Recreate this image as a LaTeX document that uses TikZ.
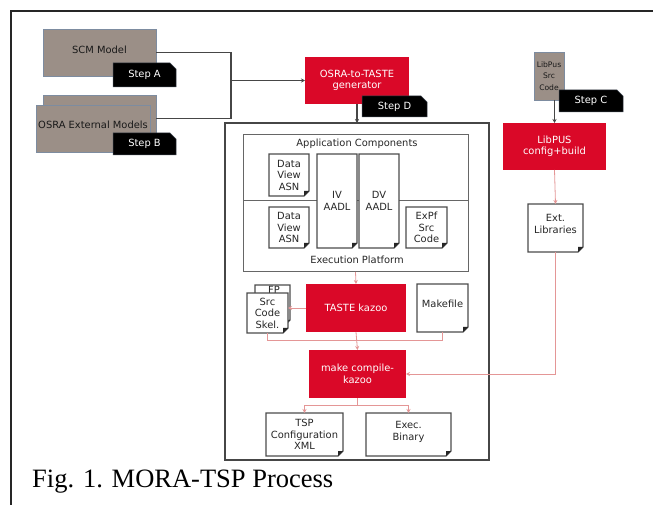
\documentclass[tikz,border=0pt]{standalone}
\usepackage{fontspec}
\setmainfont{Liberation Serif}
\newfontfamily\dvs{DejaVu Sans}
\usetikzlibrary{arrows.meta,shapes.misc}
\definecolor{boxgray}{RGB}{155,143,135}
\definecolor{boxedge}{RGB}{125,140,160}
\definecolor{mred}{RGB}{218,8,40}
\definecolor{lred}{RGB}{228,150,150}
\definecolor{dline}{RGB}{70,70,70}
\newcommand\docoutline[1]{%
  \draw[docline] (#1.north west) -- (#1.north east) -- ([yshift=5pt]#1.south east) -- ([xshift=-5pt]#1.south east) -- (#1.south west) -- cycle;
  \fill[black!85] ([yshift=5pt]#1.south east) -- ([xshift=-5pt]#1.south east) -- ([xshift=-5pt,yshift=5pt]#1.south east) -- cycle;}
\tikzset{
  wh/.style 2 args={minimum width=#1pt, minimum height=#2pt},
  base/.style={inner sep=0pt, outer sep=0pt, anchor=north west, align=center,
    font=\dvs\fontsize{9.9}{11.5}\selectfont},
  graybox/.style={base, fill=boxgray, draw=boxedge, line width=0.6pt, text=black!90},
  redbox/.style={base, fill=mred, text=white},
  steptag/.style={base, chamfered rectangle, chamfered rectangle corners=north east,
    chamfered rectangle xsep=3pt, chamfered rectangle ysep=3pt,
    fill=black, draw=boxedge!50!black, line width=0.5pt, text=white},
  docbox/.style={base, fill=white, text=black!85},
  docline/.style={draw=black!70, line width=1.2pt},
  dconn/.style={draw=dline, line width=1.2pt},
  rconn/.style={draw=lred, line width=0.8pt},
  tip/.style={-{Stealth[length=4pt,width=4pt]}},
}
\begin{document}
\begin{tikzpicture}[x=1pt, y=-1pt]
\useasboundingbox (0,0) rectangle (654,505);
\draw[line width=1.6pt, black!85] (11,505) -- (11,11) -- (653,11);

% left inputs
\node[graybox, wh={113}{47}] (scm) at (43,29) {SCM Model\\[-6.5pt]};
\node[steptag, wh={63}{24}] (stepA) at (113,63) {Step A};
\node[graybox, wh={113}{47}] (osraback) at (43,95) {};
\node[graybox, wh={114}{47}] (osra) at (36,105) {OSRA External Models\\[-4.5pt]};
\node[steptag, wh={63}{22}] (stepB) at (113,133) {Step B};

% generator
\node[redbox, wh={104}{47}] (gen) at (305,57) {OSRA-to-TASTE\\generator};
\node[steptag, wh={65}{21}] (stepD) at (362,96) {Step D};

% big box
\node[base, draw=dline, line width=1.4pt, wh={264}{337}] (big) at (225,123) {};
\node[base, draw=black!60, line width=1pt, wh={225}{137}] (inner) at (243,135) {};
\draw[black!60, line width=1pt] (inner.west |- 0,201) -- (inner.east |- 0,201);
\node[base, anchor=center, text=black!85] (appc) at (357,144) {Application Components};
\node[base, anchor=center, text=black!85] (execp) at (357,260) {Execution Platform};

\node[docbox, wh={40}{42}] (dv1) at (269,154) {Data\\View\\ASN};
\docoutline{dv1}
\node[docbox, wh={40}{94}] (iv) at (317,154) {IV\\AADL};
\docoutline{iv}
\node[docbox, wh={40}{94}] (dv) at (359,154) {DV\\AADL};
\docoutline{dv}
\node[docbox, wh={40}{41}] (dv2) at (269,207) {Data\\View\\ASN};
\docoutline{dv2}
\node[docbox, wh={41}{41}] (expf) at (406,207) {ExPf\\Src\\Code};
\docoutline{expf}

\node[redbox, wh={100}{48}] (taste) at (306,284) {TASTE kazoo};
\node[docbox, wh={35}{40}] (fpback) at (255,285) {};
\docoutline{fpback}
\node[base, anchor=center, text=black!85] (fplabel) at (274,290) {FP};
\node[docbox, wh={41}{40}] (fpfront) at (247,293) {Src\\Code\\Skel.};
\docoutline{fpfront}
\node[docbox, wh={51}{48}] (make) at (417,284) {Makefile\\[-3.5pt]};
\docoutline{make}
\node[redbox, wh={97}{48}] (compile) at (309,350) {make compile-\\kazoo};
\node[docbox, wh={77}{43}] (tsp) at (266,413) {TSP\\Configuration\\XML};
\docoutline{tsp}
\node[docbox, wh={85}{43}] (exec) at (366,413) {Exec.\\Binary\\[-4.5pt]};
\docoutline{exec}

% right column
\node[graybox, wh={30}{48}, font=\dvs\fontsize{7.6}{11.5}\selectfont] (libsrc) at (534,52) {LibPus\\Src\\Code};
\node[steptag, wh={64}{22}] (stepC) at (559,90) {Step C};
\node[redbox, wh={103}{47}] (libcfg) at (503,123) {LibPUS\\config+build};
\node[docbox, wh={55}{48}] (ext) at (528,204) {Ext.\\Libraries\\[-3.5pt]};
\docoutline{ext}

% connectors
\coordinate (join) at (231,80.5);
\draw[dconn] (scm.east) -| (join);
\draw[dconn] (osraback.east) -| (join);
\draw[dconn, tip] (join) -- (gen.west);
\draw[dconn, tip] (gen.south) -- (big.north);
\draw[dconn, tip] (libsrc.south -| libcfg.north) -- (libcfg.north);
\draw[rconn, tip] (libcfg.south) -- (ext.north);
\draw[rconn, tip] (inner.south) -- (taste.north);
\draw[rconn, tip] (taste.west) -- (taste.west -| fpfront.east);
\draw[rconn] (fpfront.south) -- ++(0,7) -| (make.south);
\draw[rconn, tip] (taste.south) -- (compile.north);
\draw[rconn, tip] (ext.south) |- (compile.east);
\draw[rconn] (compile.south) -- ++(0,7) coordinate (split);
\draw[rconn, tip] (split) -| (tsp.north);
\draw[rconn, tip] (split) -| (exec.north);

\node[anchor=base west, inner sep=0pt, font=\fontsize{26.5}{30}\selectfont] (cap) at (32,487) {Fig. 1. MORA-TSP Process};
\end{tikzpicture}
\end{document}
